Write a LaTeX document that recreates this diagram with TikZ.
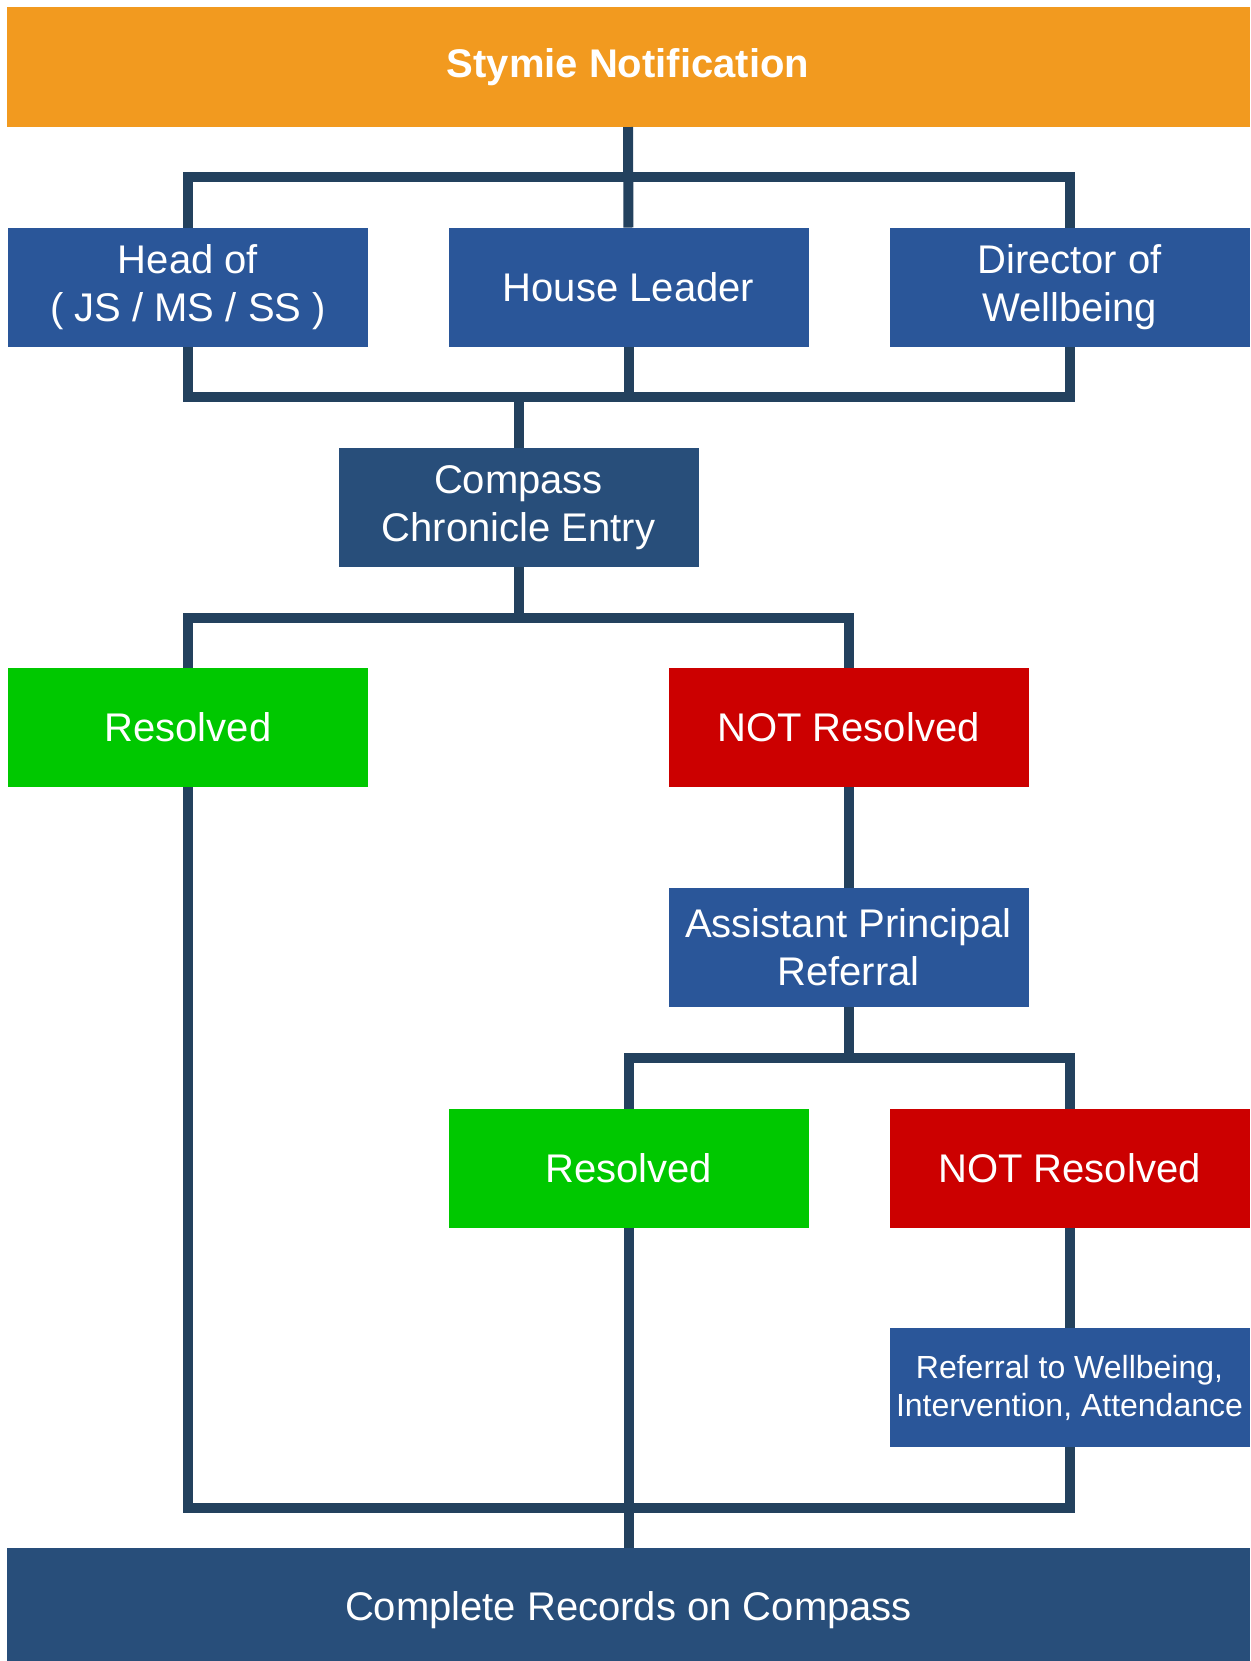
\documentclass[tikz,border=0pt]{standalone}
\usepackage{fontspec}
\setmainfont{Liberation Sans}
\definecolor{styorange}{HTML}{F29A1F}
\definecolor{boxblue}{HTML}{2A5699}
\definecolor{darkblue}{HTML}{284E7A}
\definecolor{linenavy}{HTML}{23415E}
\definecolor{resgreen}{HTML}{00C800}
\definecolor{notred}{HTML}{CC0000}

\begin{document}
\begin{tikzpicture}[x=0.5pt, y=-0.5pt, line width=5pt, draw=linenavy,
  main/.style = {rectangle, fill=boxblue, text=white, minimum width=180pt, minimum height=59.5pt, inner sep=0pt, outer sep=0pt, align=center, font=\fontsize{20}{24}\selectfont},
  wide/.style = {main, minimum width=621.5pt},
  yes/.style = {main, fill=resgreen},
  no/.style = {main, fill=notred}]
  \useasboundingbox (0,0) rectangle (1250,1661);
  \node[wide, fill=styorange, minimum height=60pt, font=\bfseries\fontsize{20}{24}\selectfont] (1) at (628, 67) {Stymie Notification};
  \node[main] (2) at (188, 287) {Head of\\( JS / MS / SS )};
  \node[main] (3) at (628.5, 287) {House Leader};
  \node[main] (4) at (1069.5, 287) {Director of\\Wellbeing};
  \node[main, fill=darkblue] (5) at (518.5, 507.5) {Compass\\Chronicle Entry};
  \node[yes] (6) at (188, 727.5) {Resolved};
  \node[no] (7) at (848.5, 727.5) {NOT Resolved};
  \node[main] (8) at (848.5, 947.5) {Assistant Principal\\Referral};
  \node[yes] (9) at (628.5, 1168) {Resolved};
  \node[no] (10) at (1069.5, 1168) {NOT Resolved};
  \node[main, font=\fontsize{16}{19}\selectfont] (11) at (1069.5, 1387.5) {Referral to Wellbeing,\\Intervention, Attendance};
  \node[wide, fill=darkblue, minimum height=62pt] (12) at (628.5, 1610) {Complete Records on Compass};
  \coordinate (b1) at (628.5, 177);
  \coordinate (b2) at (518.5, 397);
  \coordinate (b3) at (518.5, 618);
  \coordinate (b4) at (848.5, 1058);
  \coordinate (b5) at (628.5, 1508);
  \draw (1) to (3);
  \draw (2.north) |- (b1) -| (4.north);
  \draw (2.south) |- (b2) -| (4.south);
  \draw (3.south) to (3.south |- b2);
  \draw (b2) to (5);
  \draw (5) to (b3);
  \draw (6.north) |- (b3) -| (7.north);
  \draw (7) to (8);
  \draw (8) to (b4);
  \draw (9.north) |- (b4) -| (10.north);
  \draw (10) to (11);
  \draw (6.south) |- (b5) -| (11.south);
  \draw (9) to (12);
\end{tikzpicture}
\end{document}
